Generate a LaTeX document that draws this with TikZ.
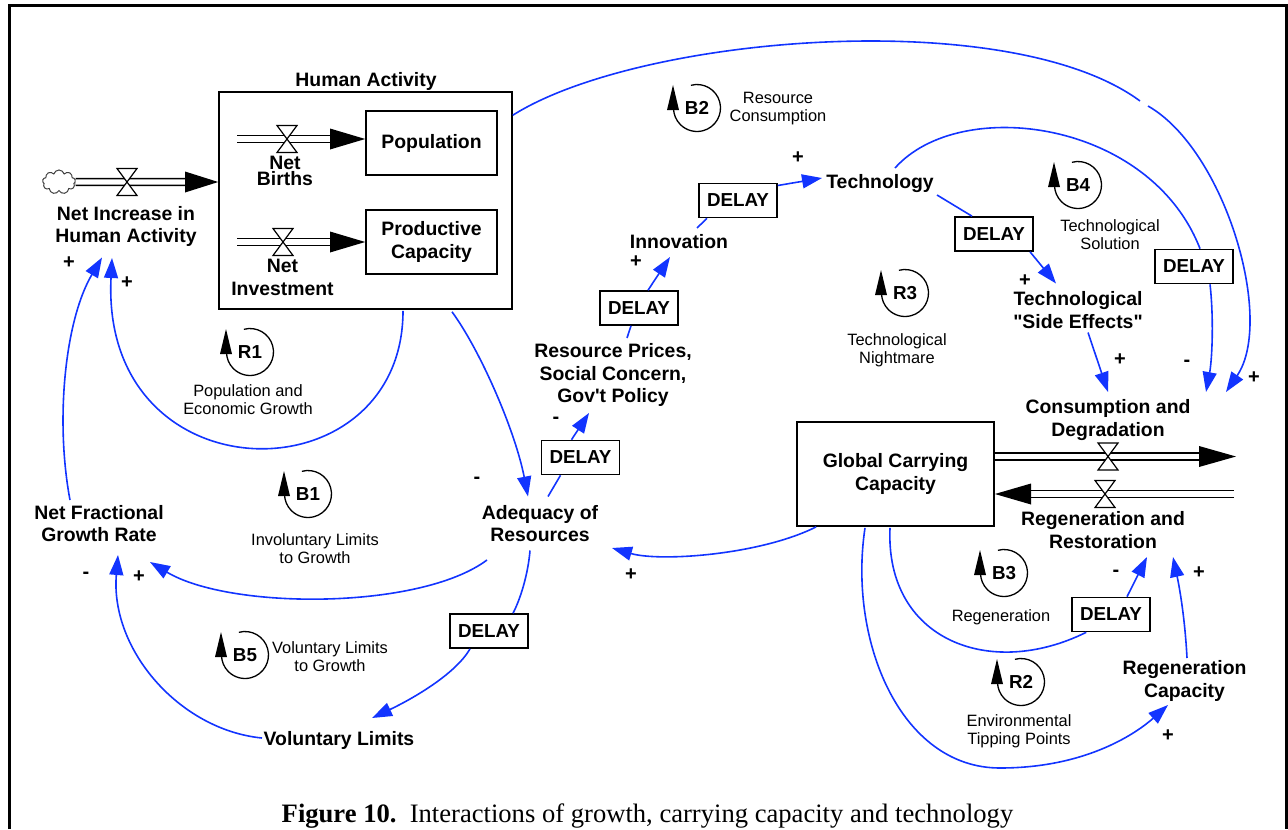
\documentclass[tikz,border=0pt]{standalone}
\usepackage{fontspec}
\setmainfont{Liberation Sans}[Ligatures=TeXOff]
\newfontfamily\capserif{Liberation Serif}
\usetikzlibrary{arrows.meta,calc,shapes.symbols}
\definecolor{linkblue}{RGB}{18,52,255}

\tikzset{
  x=0.5pt, y=-0.5pt,
  lbl/.style={font=\bfseries\fontsize{9.7}{11.35}\selectfont, align=center, inner sep=0pt},
  note/.style={font=\fontsize{8.2}{8.75}\selectfont, align=center, inner sep=0pt},
  sgn/.style={font=\bfseries\fontsize{10}{10}\selectfont, inner sep=0pt},
  stockbox/.style={draw, line width=0.8pt, lbl},
  delaybox/.style={draw, line width=0.8pt, font=\bfseries\fontsize{9.4}{10}\selectfont,
    minimum width=39pt, minimum height=17pt, inner sep=0pt},
  link/.style={draw=linkblue, line width=0.8pt, -{Triangle[length=10pt,width=7pt]}},
  plainlink/.style={draw=linkblue, line width=0.8pt},
  pipe/.style={double distance=2.7pt, line width=0.7pt},
  looptag/.style={font=\bfseries\fontsize{9.4}{10}\selectfont, inner sep=0pt},
}

% hourglass valve on a flow pipe
\newcommand\flowvalve[2]{%
  \filldraw[fill=white, line width=0.6pt] (#1-10,#2-13.5) -- (#1+10,#2-13.5)
    -- (#1-10,#2+13.5) -- (#1+10,#2+13.5) -- cycle;}

% feedback loop marker: circular arrow with its tag
\newcommand\loopmark[4]{%
  \node[looptag] (#1) at (#2,#3) {#4};
  \draw[line width=0.65pt] ([shift={(105:11.75pt)}]#1.center)
    arc[start angle=105, end angle=-180, radius=11.75pt];
  \fill ([shift={(-12pt,11.5pt)}]#1.center) -- ([shift={(-15pt,-1pt)}]#1.center)
    -- ([shift={(-9pt,-1pt)}]#1.center) -- cycle;}

\begin{document}
\begin{tikzpicture}
\useasboundingbox (0,0) rectangle (1288,829);

% page frame
\draw[line width=1.5pt, line join=miter] (9,829) -- (9,6) -- (1286,6) -- (1286,829);

% ---------- stocks ----------
\node[draw, line width=0.8pt, minimum width=146.5pt, minimum height=108.5pt, inner sep=0pt]
  (ha) at (365.5,200.5) {};
\node[lbl] (hatitle) at (366,81) {Human Activity};
\node[stockbox, minimum width=65.5pt, minimum height=32pt] (pop) at (431.5,143) {Population};
\node[stockbox, minimum width=65.5pt, minimum height=32pt] (prod) at (431.5,242) {Productive\\Capacity};
\node[stockbox, line width=0.9pt, minimum width=98.5pt, minimum height=52pt] (gcc) at (895.5,474) {Global Carrying\\Capacity};

% ---------- variables ----------
\node[lbl] (netinc) at (126,226.5) {Net Increase in\\Human Activity};
\node[lbl, font=\bfseries\fontsize{9.7}{8.3}\selectfont] (nb) at (285,171) {Net\\Births};
\node[lbl] (ni) at (282.5,277.5) {Net\\Investment};
\node[lbl] (nfgr) at (99,523.5) {Net Fractional\\Growth Rate};
\node[lbl] (adq) at (540,523.5) {Adequacy of\\Resources};
\node[lbl] (vol) at (339,740) {Voluntary Limits};
\node[lbl] (rp) at (613,375) {Resource Prices,\\Social Concern,\\Gov't Policy};
\node[lbl] (inn) at (679,242) {Innovation};
\node[lbl] (tech) at (880,184) {Technology};
\node[lbl] (tse) at (1078,310) {Technological\\"Side Effects"};
\node[lbl] (cd) at (1108,420) {Consumption and\\Degradation};
\node[lbl] (rr) at (1103,530) {Regeneration and\\Restoration};
\node[lbl] (rc) at (1184.5,681) {Regeneration\\Capacity};

% ---------- delays ----------
\node[delaybox] (d1) at (738,200.5) {DELAY};
\node[delaybox] (d2) at (639,308) {DELAY};
\node[delaybox] (d3) at (580.5,457.5) {DELAY};
\node[delaybox] (d4) at (994,234) {DELAY};
\node[delaybox] (d5) at (1194,266.5) {DELAY};
\node[delaybox] (d6) at (1111,614.5) {DELAY};
\node[delaybox] (d7) at (489,631) {DELAY};

% ---------- flows ----------
\node[cloud, cloud puffs=9, draw=black!75, line width=0.5pt, minimum width=16.5pt,
  minimum height=12pt, inner sep=0pt] (cloud) at (59,182) {};
\draw[pipe] (cloud.east) -- (185,182);
\fill (185,171.5) -- (ha.west |- cloud.east) -- (185,192.5) -- cycle;
\flowvalve{127}{182}

\coordinate (nbsrc) at (237,139);
\draw[pipe] (nbsrc) -- (330,139);
\fill (330,128.5) -- ($(pop.west)+(0,-4)$) -- (330,149.5) -- cycle;
\flowvalve{287}{139}

\coordinate (nisrc) at (237,242);
\draw[pipe] (nisrc) -- (330,242);
\fill (330,231.5) -- (prod.west) -- (330,252.5) -- cycle;
\flowvalve{283}{242}

\coordinate (sinkc) at (1236,456.5);
\draw[pipe] ($(gcc.east)+(0,-17.5)$) -- (1199,456.5);
\fill (1199,446) -- (sinkc) -- (1199,467) -- cycle;
\flowvalve{1108}{456.5}

\coordinate (srcr) at (1234,494);
\draw[pipe] (srcr) -- (1031,494);
\fill (1031,483.5) -- ($(gcc.east)+(0,20)$) -- (1031,504.5) -- cycle;
\flowvalve{1105}{494}

% ---------- causal links ----------
\draw[link] ($(ha.south)+(37.5,1)$) .. controls (403,500) and (100,500) .. ($(netinc)+(-14,31.5)$);
\draw[link] ($(nfgr)+(-29,-23.5)$) .. controls (55,420) and (65,320) .. ($(netinc)+(-24,31)$);
\draw[link] ($(ha.south)+(86.5,2)$) .. controls (480,350) and (515,430) .. ($(adq)+(-12,-27)$);

\draw[plainlink] ($(adq)+(8,-27)$) -- ($(d3.south)+(-20,0)$);
\draw[link] ($(d3.north)+(-9,0)$) -- ($(rp)+(-24,38)$);
\draw[plainlink] ($(rp)+(14,-37)$) -- ($(d2.south)+(-8,0)$);
\draw[link] ($(d2.north)+(9,0)$) -- ($(inn)+(-9,15)$);
\draw[plainlink] ($(inn)+(18,-14)$) -- ($(d1.south)+(-31,0)$);
\draw[link] ($(d1.east)+(0,-15)$) -- ($(tech)+(-58,-6)$);

\draw[plainlink] ($(tech)+(57,11)$) -- ($(d4.north)+(-22,0)$);
\draw[link] ($(d4.south)+(36,0)$) -- ($(tse)+(-22,-26.5)$);
\draw[link] ($(tse)+(10,22.5)$) -- ($(cd)+(0,-28)$);

\draw[plainlink] ($(tech)+(15,-16)$) .. controls (960,95) and (1150,120) .. ($(d5.north)+(6,0)$);
\draw[link] ($(d5.south)+(16,0)$) .. controls (1214,320) and (1212,360) .. ($(cd)+(98,-28)$);

\draw[link] ($(ha.north east)+(0,24)$) .. controls (640,35) and (1010,5) .. (1140,101)
  (1148,106) .. controls (1225,150) and (1275,320) .. ($(cd)+(118,-28)$);

\draw[link] ($(gcc.south west)+(20,0)$) .. controls (760,555) and (660,562) .. ($(adq)+(72,24.5)$);
\draw[link] ($(adq)+(-53,36.5)$) .. controls (420,610) and (230,610) .. ($(nfgr)+(51,38.5)$);
\draw[link] ($(vol)+(-77,-2)$) .. controls (180,730) and (110,650) .. ($(nfgr)+(19,31.5)$);

\draw[plainlink] ($(adq)+(-10,27)$) .. controls (528,575) and (520,600) .. ($(d7.north)+(24,0)$);
\draw[link] ($(d7.south)+(-19,0)$) .. controls (455,675) and (410,700) .. ($(vol)+(33,-22)$);

\draw[plainlink] ($(gcc.south)+(-5.5,1)$) .. controls (885,640) and (990,680) .. ($(d6.south west)+(15,0)$);
\draw[link] ($(d6.north)+(16,0)$) -- ($(rr)+(44,27)$);
\draw[link] ($(gcc.south)+(-30.5,1)$) .. controls (848,640) and (900,768) .. (1000,768)
  .. controls (1090,768) and (1140,730) .. ($(rc)+(-16.5,24)$);
\draw[link] ($(rc)+(2.5,-23)$) .. controls (1185,620) and (1180,590) .. ($(rr)+(70,27)$);

% ---------- polarities ----------
\node[sgn] (s1) at (69,263) {+};
\node[sgn] (s2) at (127,283) {+};
\node[sgn] (s3) at (477,480) {-};
\node[sgn] (s4) at (556,420) {-};
\node[sgn] (s5) at (636,262) {+};
\node[sgn] (s6) at (798,158) {+};
\node[sgn] (s7) at (1025,281) {+};
\node[sgn] (s8) at (1120,360) {+};
\node[sgn] (s9) at (1187,363) {-};
\node[sgn] (s10) at (1254,378) {+};
\node[sgn] (s11) at (631,575) {+};
\node[sgn] (s12) at (86,575) {-};
\node[sgn] (s13) at (139,577) {+};
\node[sgn] (s14) at (1116,573) {-};
\node[sgn] (s15) at (1199,573) {+};
\node[sgn] (s16) at (1168,736) {+};

% ---------- loops ----------
\loopmark{R1}{250}{352}{R1}
\loopmark{B2}{697}{108}{B2}
\loopmark{B4}{1078}{185}{B4}
\loopmark{R3}{905}{293}{R3}
\loopmark{B1}{308}{494}{B1}
\loopmark{B5}{245}{655}{B5}
\loopmark{B3}{1004}{573}{B3}
\loopmark{R2}{1021}{682}{R2}

\node[note] (n1) at (248,399.5) {Population and\\Economic Growth};
\node[note] (n2) at (778,108.5) {Resource\\Consumption};
\node[note] (n3) at (1110,234.5) {Technological\\Solution};
\node[note] (n4) at (897,350.5) {Technological\\Nightmare};
\node[note] (n5) at (315,548.5) {Involuntary Limits\\to Growth};
\node[note] (n6) at (330,656.5) {Voluntary Limits\\to Growth};
\node[note] (n7) at (1001,617) {Regeneration};
\node[note] (n8) at (1019,731) {Environmental\\Tipping Points};

% ---------- caption ----------
\node[font=\capserif\fontsize{13.3}{15}\selectfont, anchor=base, inner sep=0pt] (cap) at (647.5,822)
  {\textbf{Figure 10.}\ \ Interactions of growth, carrying capacity and technology};
\end{tikzpicture}
\end{document}
